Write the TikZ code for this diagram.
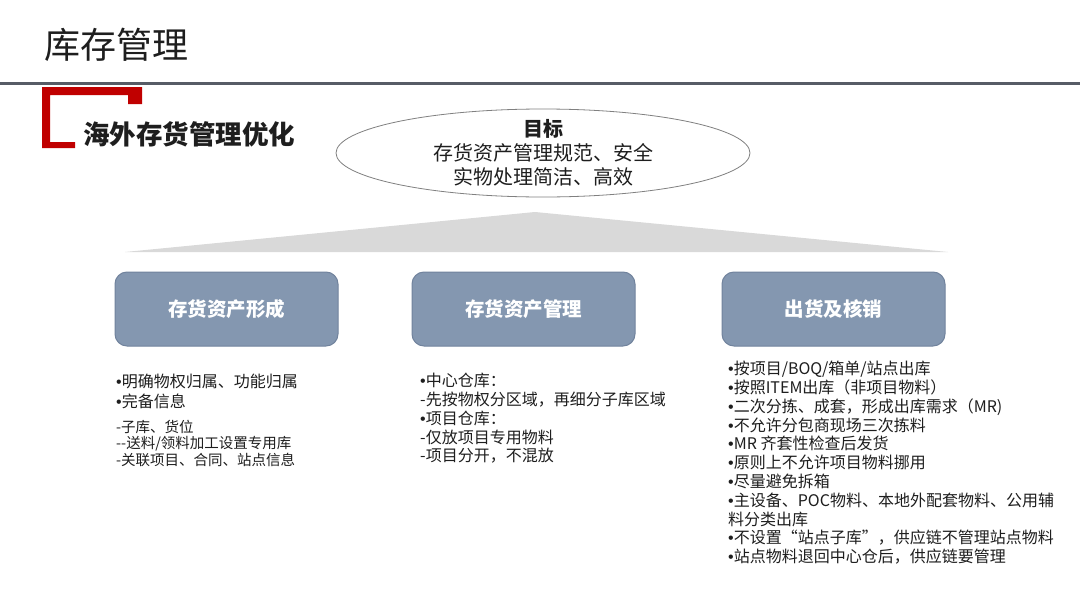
\documentclass[tikz,border=0pt]{standalone}
\usepackage{fontspec}
\setmainfont{Noto Sans CJK SC}
\newfontfamily\latfont{Liberation Sans}
\newcommand\bl{{\latfont •}}
\usetikzlibrary{shapes.geometric}
\definecolor{txt}{HTML}{1E1E1E}
\definecolor{brk}{HTML}{C00000}
\definecolor{rule}{HTML}{575C66}
\definecolor{boxfill}{HTML}{8497B0}
\definecolor{boxline}{HTML}{71839D}
\definecolor{tri}{HTML}{D9D9D9}
\definecolor{ell}{HTML}{808080}
\begin{document}
\begin{tikzpicture}[x=1pt,y=-1pt,
  catbox/.style={draw=boxline, line width=1pt, fill=boxfill, rounded corners=12pt,
    minimum width=223pt, minimum height=74pt, text=white,
    font=\fontsize{19.5}{22}\selectfont\bfseries},
  listtext/.style={anchor=north west, inner sep=0pt, align=left, text=txt,
    font=\fontsize{16}{18.8}\selectfont},
  smalllist/.style={anchor=north west, inner sep=0pt, align=left, text=txt,
    font=\fontsize{14.5}{16.5}\selectfont}]
\useasboundingbox[fill=white] (0,0) rectangle (1080,608);

% title and rule
\node[anchor=west, inner sep=0pt, text=txt, font=\fontsize{36}{40}\selectfont] (title) at (44,45) {库存管理};
\coordinate (ruleL) at (0,83);
\coordinate (ruleR) at (1080,83);
\draw[rule, line width=3pt] (ruleL) -- (ruleR);

% red bracket
\fill[brk] (42,87) -- (142,87) -- (142,104) -- (128,104) -- (128,95) -- (50,95)
  -- (50,142) -- (75,142) -- (75,148) -- (42,148) -- cycle;
\node[anchor=west, inner sep=0pt, text=txt, font=\fontsize{26.5}{30}\selectfont\bfseries] (sub) at (83,134) {海外存货管理优化};

% goal ellipse
\node[ellipse, draw=ell, line width=0.8pt, minimum width=414pt, minimum height=88pt] (goal) at (543,153) {};
\node[align=center, text=txt, inner sep=0pt, font=\fontsize{20}{24}\selectfont] (goaltext) at (goal.center)
  {\textbf{目标}\\存货资产管理规范、安全\\实物处理简洁、高效};

% grey roof
\fill[tri] (535,212) -- (948,252) -- (125,252) -- cycle;

% category boxes
\node[catbox] (form) at (226.5,309) {存货资产形成};
\node[catbox] (mgmt) at (523.5,309) {存货资产管理};
\node[catbox] (out)  at (833.5,309) {出货及核销};

% lists
\node[listtext] (l1a) at (116,374) {\bl 明确物权归属、功能归属\\[1.2pt]\bl 完备信息};
\node[smalllist] (l1b) at (116,420) {-子库、货位\\-{}-送料/领料加工设置专用库\\-关联项目、合同、站点信息};

\node[listtext] (l2) at (420,373) {\bl 中心仓库：\\-先按物权分区域，再细分子库区域\\\bl 项目仓库：\\-仅放项目专用物料\\-项目分开，不混放};

\node[listtext] (l3) at (728,361) {\bl 按项目/BOQ/箱单/站点出库\\\bl 按照ITEM出库（非项目物料）\\\bl 二次分拣、成套，形成出库需求（MR)\\\bl 不允许分包商现场三次拣料\\\bl MR 齐套性检查后发货\\\bl 原则上不允许项目物料挪用\\\bl 尽量避免拆箱\\\bl 主设备、POC物料、本地外配套物料、公用辅\\料分类出库\\\bl 不设置“站点子库”，供应链不管理站点物料\\\bl 站点物料退回中心仓后，供应链要管理};
\end{tikzpicture}
\end{document}
